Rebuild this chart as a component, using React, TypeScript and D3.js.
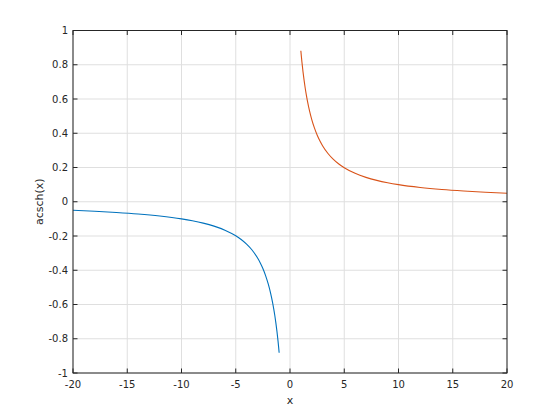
import React from "react";
import * as d3 from "d3";

const xTicks = [-20, -15, -10, -5, 0, 5, 10, 15, 20];
const yTicks = [-1, -0.8, -0.6, -0.4, -0.2, 0, 0.2, 0.4, 0.6, 0.8, 1];

const negX = [-20, -18, -16, -14, -12, -10, -9, -8, -7, -6, -5, -4.5, -4, -3.5, -3, -2.75, -2.5, -2.25, -2, -1.8, -1.6, -1.5, -1.4, -1.3, -1.2, -1.1, -1.05, -1];
const negY = [-0.05, -0.0555, -0.0625, -0.0713, -0.0832, -0.0998, -0.1109, -0.1247, -0.1424, -0.1659, -0.1987, -0.2204, -0.2475, -0.2819, -0.3275, -0.3561, -0.39, -0.431, -0.4812, -0.5303, -0.5902, -0.6251, -0.6644, -0.7085, -0.7585, -0.8155, -0.8473, -0.8814];

const posX = [1, 1.05, 1.1, 1.2, 1.3, 1.4, 1.5, 1.6, 1.8, 2, 2.25, 2.5, 2.75, 3, 3.5, 4, 4.5, 5, 6, 7, 8, 9, 10, 12, 14, 16, 18, 20];
const posY = [0.8814, 0.8473, 0.8155, 0.7585, 0.7085, 0.6644, 0.6251, 0.5902, 0.5303, 0.4812, 0.431, 0.39, 0.3561, 0.3275, 0.2819, 0.2475, 0.2204, 0.1987, 0.1659, 0.1424, 0.1247, 0.1109, 0.0998, 0.0832, 0.0713, 0.0625, 0.0555, 0.05];

const W = 560, H = 420;
const L = 73, R = 507, T = 30.5, B = 373;

export default function App() {
  const x = d3.scaleLinear().domain([-20, 20]).range([L, R]);
  const y = d3.scaleLinear().domain([-1, 1]).range([B, T]);
  const line = d3.line<[number, number]>().x(d => x(d[0])).y(d => y(d[1])).curve(d3.curveMonotoneX);
  const negPts = negX.map((v, i) => [v, negY[i]] as [number, number]);
  const posPts = posX.map((v, i) => [v, posY[i]] as [number, number]);
  const font = "'DejaVu Sans', sans-serif";
  const axisColor = "#262626";
  const gridColor = "#dfdfdf";
  const tl = 4.5;
  return (
    <svg width={W} height={H} style={{ position: "absolute", left: 0, top: 0, background: "#fff" }}>
      <rect x={0} y={0} width={W} height={H} fill="#fff" />
      {xTicks.map(t => (
        <line key={"gx" + t} x1={x(t)} x2={x(t)} y1={T} y2={B} stroke={gridColor} strokeWidth={1} />
      ))}
      {yTicks.map(t => (
        <line key={"gy" + t} x1={L} x2={R} y1={y(t)} y2={y(t)} stroke={gridColor} strokeWidth={1} />
      ))}
      <path d={line(negPts) || ""} fill="none" stroke="#0072BD" strokeWidth={1.1} />
      <path d={line(posPts) || ""} fill="none" stroke="#D95319" strokeWidth={1.1} />
      <rect x={L} y={T} width={R - L} height={B - T} fill="none" stroke={axisColor} strokeWidth={1} />
      {xTicks.map(t => (
        <g key={"tx" + t}>
          <line x1={x(t)} x2={x(t)} y1={B} y2={B - tl} stroke={axisColor} />
          <line x1={x(t)} x2={x(t)} y1={T} y2={T + tl} stroke={axisColor} />
          <text x={x(t)} y={B + 15} textAnchor="middle" fontSize={10} fontFamily={font} fill={axisColor}>{t}</text>
        </g>
      ))}
      {yTicks.map(t => (
        <g key={"ty" + t}>
          <line x1={L} x2={L + tl} y1={y(t)} y2={y(t)} stroke={axisColor} />
          <line x1={R} x2={R - tl} y1={y(t)} y2={y(t)} stroke={axisColor} />
          <text x={L - 5} y={y(t) + 3.5} textAnchor="end" fontSize={10} fontFamily={font} fill={axisColor}>{t}</text>
        </g>
      ))}
      <text x={(L + R) / 2} y={404} textAnchor="middle" fontSize={11} fontFamily={font} fill={axisColor}>x</text>
      <text transform={`translate(43,${(T + B) / 2}) rotate(-90)`} textAnchor="middle" fontSize={11} fontFamily={font} fill={axisColor}>acsch(x)</text>
    </svg>
  );
}
